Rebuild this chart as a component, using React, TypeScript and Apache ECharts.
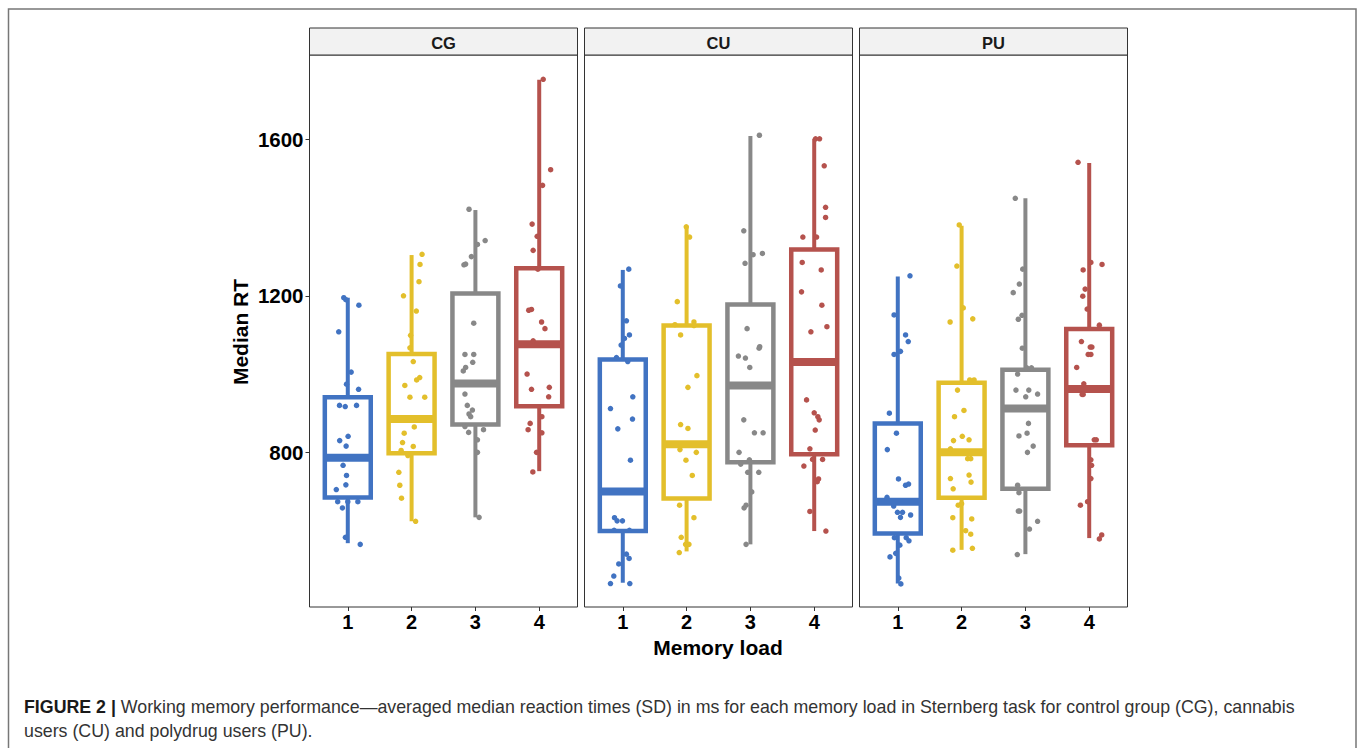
import React, { useEffect, useRef } from "react";
import * as echarts from "echarts";

// ---------- data ----------
const GROUPS = ["CG", "CU", "PU"];
const LOADS = [1, 2, 3, 4];
const Y_TICKS = [800, 1200, 1600];
const COLORS = ["#4173c2", "#e3bf2b", "#888888", "#b5524d"];

// box stats per load: [min, Q1, median, Q3, max]
const CG_BOX = [
  [568, 685, 786, 941, 1195],
  [624, 798, 885, 1051, 1304],
  [634, 871, 976, 1206, 1419],
  [752, 918, 1076, 1270, 1752],
];
const CU_BOX = [
  [467, 599, 700, 1037, 1266],
  [547, 682, 821, 1124, 1376],
  [565, 775, 971, 1178, 1608],
  [599, 795, 1031, 1318, 1601],
];
const PU_BOX = [
  [465, 593, 674, 874, 1249],
  [551, 684, 800, 978, 1379],
  [540, 707, 912, 1011, 1449],
  [581, 818, 962, 1115, 1539],
];

// individual median RTs and their horizontal jitter (in category units)
const CG1_RT = [1195, 1190, 1176, 1108, 1005, 974, 961, 920, 917, 920, 830, 841, 816, 767, 741, 705, 717, 674, 674, 674, 658, 583, 565];
const CG1_JIT = [-0.063, -0.03, 0.174, -0.142, 0.053, -0.02, 0.169, -0.13, -0.04, 0.137, -0.127, 0.005, -0.026, -0.074, -0.02, -0.18, -0.03, -0.158, 0.158, 0.0, -0.084, -0.037, 0.195];
const CG2_RT = [1306, 1280, 1236, 1200, 1161, 1099, 1067, 1032, 991, 985, 971, 941, 941, 865, 849, 825, 815, 805, 792, 749, 716, 683, 624];
const CG2_JIT = [0.164, 0.132, 0.116, -0.127, 0.074, -0.016, -0.026, 0.026, 0.127, 0.079, -0.106, -0.026, 0.206, 0.042, -0.116, -0.142, 0.026, -0.164, -0.058, -0.2, -0.185, -0.158, 0.063];
const CG3_RT = [1421, 1341, 1331, 1300, 1281, 1279, 1130, 1050, 1050, 1030, 1017, 1008, 949, 920, 908, 898, 891, 866, 858, 851, 832, 800, 634];
const CG3_JIT = [-0.1, 0.153, 0.032, -0.063, -0.153, -0.18, -0.026, -0.164, -0.026, -0.042, -0.153, -0.19, -0.164, -0.127, -0.047, -0.1, -0.074, -0.164, 0.127, -0.106, 0.032, 0.032, 0.058];
const CG4_RT = [1753, 1522, 1482, 1383, 1352, 1316, 1268, 1165, 1163, 1133, 1116, 1085, 1000, 961, 966, 942, 891, 874, 858, 850, 800, 750];
const CG4_JIT = [0.063, 0.179, 0.053, -0.111, -0.032, -0.095, -0.021, -0.121, -0.164, 0.037, 0.09, -0.095, -0.19, -0.121, 0.158, 0.148, 0.042, -0.142, -0.174, 0.042, -0.042, -0.1];

const CU1_RT = [1268, 1225, 1136, 1100, 1091, 1074, 1042, 1032, 942, 912, 885, 860, 780, 633, 625, 625, 601, 601, 540, 529, 515, 484, 465, 465];
const CU1_JIT = [0.094, -0.037, 0.057, 0.104, 0.026, -0.026, -0.099, 0.078, 0.157, -0.193, 0.152, -0.078, 0.12, -0.13, -0.089, -0.005, -0.136, 0.104, 0.057, 0.099, -0.063, -0.141, -0.193, 0.11];
const CU2_RT = [1376, 1350, 1185, 1133, 1126, 1124, 1100, 996, 966, 871, 861, 807, 800, 780, 741, 665, 633, 583, 565, 565, 544];
const CU2_JIT = [-0.005, 0.047, -0.146, 0.115, -0.183, 0.115, -0.094, 0.162, 0.021, -0.094, 0.021, -0.104, 0.152, -0.01, 0.089, -0.11, 0.115, -0.084, -0.016, 0.037, -0.115];
const CU3_RT = [1610, 1366, 1305, 1308, 1283, 1116, 1070, 1066, 1046, 1041, 1017, 883, 850, 850, 800, 770, 781, 749, 749, 699, 665, 658, 565];
const CU3_JIT = [0.141, -0.104, 0.042, 0.188, -0.084, -0.052, 0.146, 0.136, -0.188, -0.078, -0.01, -0.104, 0.063, 0.199, -0.178, -0.152, -0.016, -0.042, 0.131, 0.021, -0.068, -0.099, -0.068];
const CU4_RT = [1601, 1601, 1532, 1426, 1400, 1350, 1350, 1285, 1266, 1210, 1176, 1121, 1108, 934, 901, 891, 883, 857, 809, 765, 782, 782, 732, 725, 649, 599];
const CU4_JIT = [0.021, 0.084, 0.157, 0.178, 0.178, -0.178, 0.037, -0.188, 0.11, -0.199, 0.12, 0.199, -0.052, -0.12, 0.0, 0.057, 0.078, 0.016, -0.068, -0.162, -0.026, 0.131, 0.068, 0.047, -0.068, 0.183];

const PU1_RT = [1251, 1151, 1100, 1083, 1050, 1058, 900, 849, 807, 732, 716, 719, 685, 663, 647, 647, 634, 640, 582, 582, 574, 563, 542, 533, 479, 464];
const PU1_JIT = [0.191, -0.058, 0.122, 0.164, -0.058, 0.042, -0.132, -0.021, -0.164, 0.011, 0.122, 0.169, -0.169, -0.064, -0.005, 0.074, 0.042, 0.201, -0.053, 0.132, 0.175, 0.032, -0.032, -0.122, 0.016, 0.048];
const PU2_RT = [1381, 1276, 1133, 1141, 1169, 985, 985, 959, 907, 891, 841, 830, 832, 809, 784, 784, 742, 724, 733, 707, 669, 665, 633, 630, 600, 591, 550, 555];
const PU2_JIT = [-0.037, -0.074, -0.18, 0.175, 0.026, 0.127, 0.196, -0.064, 0.037, -0.111, 0.011, -0.127, 0.117, -0.175, 0.095, 0.143, 0.117, 0.148, -0.175, -0.132, 0.0, -0.053, -0.138, 0.159, 0.064, 0.143, -0.138, 0.169];
const PU3_RT = [1449, 1268, 1230, 1208, 1140, 1150, 1066, 1016, 1016, 1000, 959, 959, 942, 949, 874, 849, 842, 816, 800, 716, 697, 650, 650, 604, 624, 539];
const PU3_JIT = [-0.159, -0.042, -0.095, -0.191, -0.111, -0.053, -0.048, 0.021, 0.095, -0.122, -0.148, 0.053, 0.005, 0.191, 0.048, 0.026, -0.101, 0.122, 0.032, -0.122, -0.101, -0.09, -0.111, 0.064, 0.191, -0.127];
const PU4_RT = [1541, 1285, 1280, 1266, 1217, 1199, 1166, 1125, 1083, 1069, 1069, 1050, 1050, 1017, 975, 948, 948, 832, 832, 781, 767, 733, 674, 665, 589, 579];
const PU4_JIT = [-0.175, 0.026, 0.201, -0.095, -0.064, -0.101, -0.032, 0.159, -0.122, 0.042, 0.016, -0.016, 0.026, -0.196, -0.085, -0.111, -0.095, 0.079, 0.111, 0.026, 0.037, 0.026, -0.026, -0.138, 0.196, 0.159];

const BOXES = [CG_BOX, CU_BOX, PU_BOX];
const RTS = [
  [CG1_RT, CG2_RT, CG3_RT, CG4_RT],
  [CU1_RT, CU2_RT, CU3_RT, CU4_RT],
  [PU1_RT, PU2_RT, PU3_RT, PU4_RT],
];
const JITS = [
  [CG1_JIT, CG2_JIT, CG3_JIT, CG4_JIT],
  [CU1_JIT, CU2_JIT, CU3_JIT, CU4_JIT],
  [PU1_JIT, PU2_JIT, PU3_JIT, PU4_JIT],
];

// ---------- layout ----------
const W = 1358;
const H = 748;
const PANEL_LEFT = [309.5, 584.5, 859.5];
const PANEL_W = 268;
const PANEL_TOP = 55;
const PANEL_H = 552;
const STRIP_TOP = 28;
const Y_MIN = 405;
const Y_MAX = 1815;
const BOX_W = 0.72;
const FONT = "Liberation Sans, Arial, Helvetica, sans-serif";
const CAPTION_SIZE = 17.8;

function boxRenderer(params: any, api: any) {
  const x = api.value(0);
  const c = COLORS[params.dataIndex % COLORS.length];
  const pMin = api.coord([x, api.value(1)]);
  const yQ1 = api.coord([x, api.value(2)])[1];
  const yMed = api.coord([x, api.value(3)])[1];
  const yQ3 = api.coord([x, api.value(4)])[1];
  const yMax = api.coord([x, api.value(5)])[1];
  const cx = pMin[0];
  const half = api.size([BOX_W, 0])[0] / 2;
  return {
    type: "group",
    children: [
      { type: "line", shape: { x1: cx, y1: yMax, x2: cx, y2: yQ3 }, style: { stroke: c, lineWidth: 4 } },
      { type: "line", shape: { x1: cx, y1: yQ1, x2: cx, y2: pMin[1] }, style: { stroke: c, lineWidth: 4 } },
      {
        type: "rect",
        shape: { x: cx - half, y: yQ3, width: half * 2, height: yQ1 - yQ3 },
        style: { fill: "#ffffff", stroke: c, lineWidth: 4.5 },
      },
      { type: "line", shape: { x1: cx - half, y1: yMed, x2: cx + half, y2: yMed }, style: { stroke: c, lineWidth: 8 } },
    ],
  };
}

export default function App() {
  const ref = useRef<HTMLDivElement>(null);
  useEffect(() => {
    document.body.style.margin = "0";
    if (!ref.current) return;
    const chart = echarts.init(ref.current, undefined, { renderer: "svg", width: W, height: H });

    const grid = PANEL_LEFT.map((l) => ({
      left: l,
      top: PANEL_TOP,
      width: PANEL_W,
      height: PANEL_H,
      show: true,
      borderColor: "#333333",
      borderWidth: 1,
      backgroundColor: "#ffffff",
    }));

    const xAxis = GROUPS.map((_, i) => ({
      type: "value",
      gridIndex: i,
      min: 0.4,
      max: 4.6,
      axisLine: { show: false },
      splitLine: { show: false },
      axisTick: { show: true, customValues: LOADS, length: 4, lineStyle: { color: "#333333", width: 1 } },
      axisLabel: {
        show: true,
        customValues: LOADS,
        formatter: (v: number) => String(v),
        color: "#000000",
        fontWeight: "bold",
        fontSize: 20,
        fontFamily: FONT,
        margin: 5,
      },
    }));

    const yAxis = GROUPS.map((_, i) => ({
      type: "value",
      gridIndex: i,
      min: Y_MIN,
      max: Y_MAX,
      axisLine: { show: false },
      splitLine: { show: false },
      axisTick: { show: i === 0, customValues: Y_TICKS, length: 4, lineStyle: { color: "#333333", width: 1 } },
      axisLabel: {
        show: i === 0,
        customValues: Y_TICKS,
        formatter: (v: number) => String(v),
        color: "#000000",
        fontWeight: "bold",
        fontSize: 20.5,
        fontFamily: FONT,
        margin: 6,
      },
    }));

    const series: any[] = [];
    GROUPS.forEach((g, gi) => {
      series.push({
        type: "custom",
        name: g + " boxes",
        xAxisIndex: gi,
        yAxisIndex: gi,
        z: 2,
        renderItem: boxRenderer,
        encode: { x: 0, y: [1, 2, 3, 4, 5] },
        data: LOADS.map((load, li) => [load, ...BOXES[gi][li]]),
      });
      LOADS.forEach((load, li) => {
        series.push({
          type: "scatter",
          name: g + " load " + load,
          xAxisIndex: gi,
          yAxisIndex: gi,
          z: 3,
          symbolSize: 5.5,
          itemStyle: { color: COLORS[li], opacity: 1 },
          data: RTS[gi][li].map((v, k) => [load + JITS[gi][li][k], v]),
        });
      });
    });

    const graphic: any[] = [
      {
        type: "rect",
        shape: { x: 8.5, y: 9, width: 1347.5, height: 760 },
        style: { fill: "none", stroke: "#777777", lineWidth: 1.5 },
        z: -1,
        silent: true,
      },
    ];
    GROUPS.forEach((g, gi) => {
      graphic.push({
        type: "rect",
        shape: { x: PANEL_LEFT[gi], y: STRIP_TOP, width: PANEL_W, height: PANEL_TOP - STRIP_TOP },
        style: { fill: "#f2f2f2", stroke: "#333333", lineWidth: 1 },
      });
      graphic.push({
        type: "text",
        x: PANEL_LEFT[gi] + PANEL_W / 2,
        y: (STRIP_TOP + PANEL_TOP) / 2 + 1,
        style: {
          text: g,
          fill: "#1a1a1a",
          font: "bold 16.5px " + FONT,
          align: "center",
          verticalAlign: "middle",
        },
      });
    });
    graphic.push({
      type: "text",
      x: 240,
      y: 332,
      rotation: Math.PI / 2,
      style: {
        text: "Median RT",
        fill: "#000000",
        font: "bold 21px " + FONT,
        align: "center",
        verticalAlign: "middle",
      },
    });
    graphic.push({
      type: "text",
      x: 718,
      y: 647,
      style: {
        text: "Memory load",
        fill: "#000000",
        font: "bold 21px " + FONT,
        align: "center",
        verticalAlign: "middle",
      },
    });
    graphic.push({
      type: "text",
      x: 24,
      y: 707,
      style: {
        text:
          "{b|FIGURE 2 |} Working memory performance\u2014averaged median reaction times (SD) in ms for each memory load in Sternberg task for control group (CG), cannabis",
        verticalAlign: "middle",
        rich: {
          b: { font: "bold " + CAPTION_SIZE + "px " + FONT, fill: "#1a1a1a" },
        },
        font: CAPTION_SIZE + "px " + FONT,
        fill: "#333333",
      },
    });
    graphic.push({
      type: "text",
      x: 24,
      y: 731,
      style: {
        text: "users (CU) and polydrug users (PU).",
        verticalAlign: "middle",
        font: CAPTION_SIZE + "px " + FONT,
        fill: "#333333",
      },
    });

    chart.setOption({
      animation: false,
      backgroundColor: "#ffffff",
      grid,
      xAxis,
      yAxis,
      series,
      graphic,
    });
    return () => chart.dispose();
  }, []);
  return <div ref={ref} style={{ width: W, height: H }} />;
}
